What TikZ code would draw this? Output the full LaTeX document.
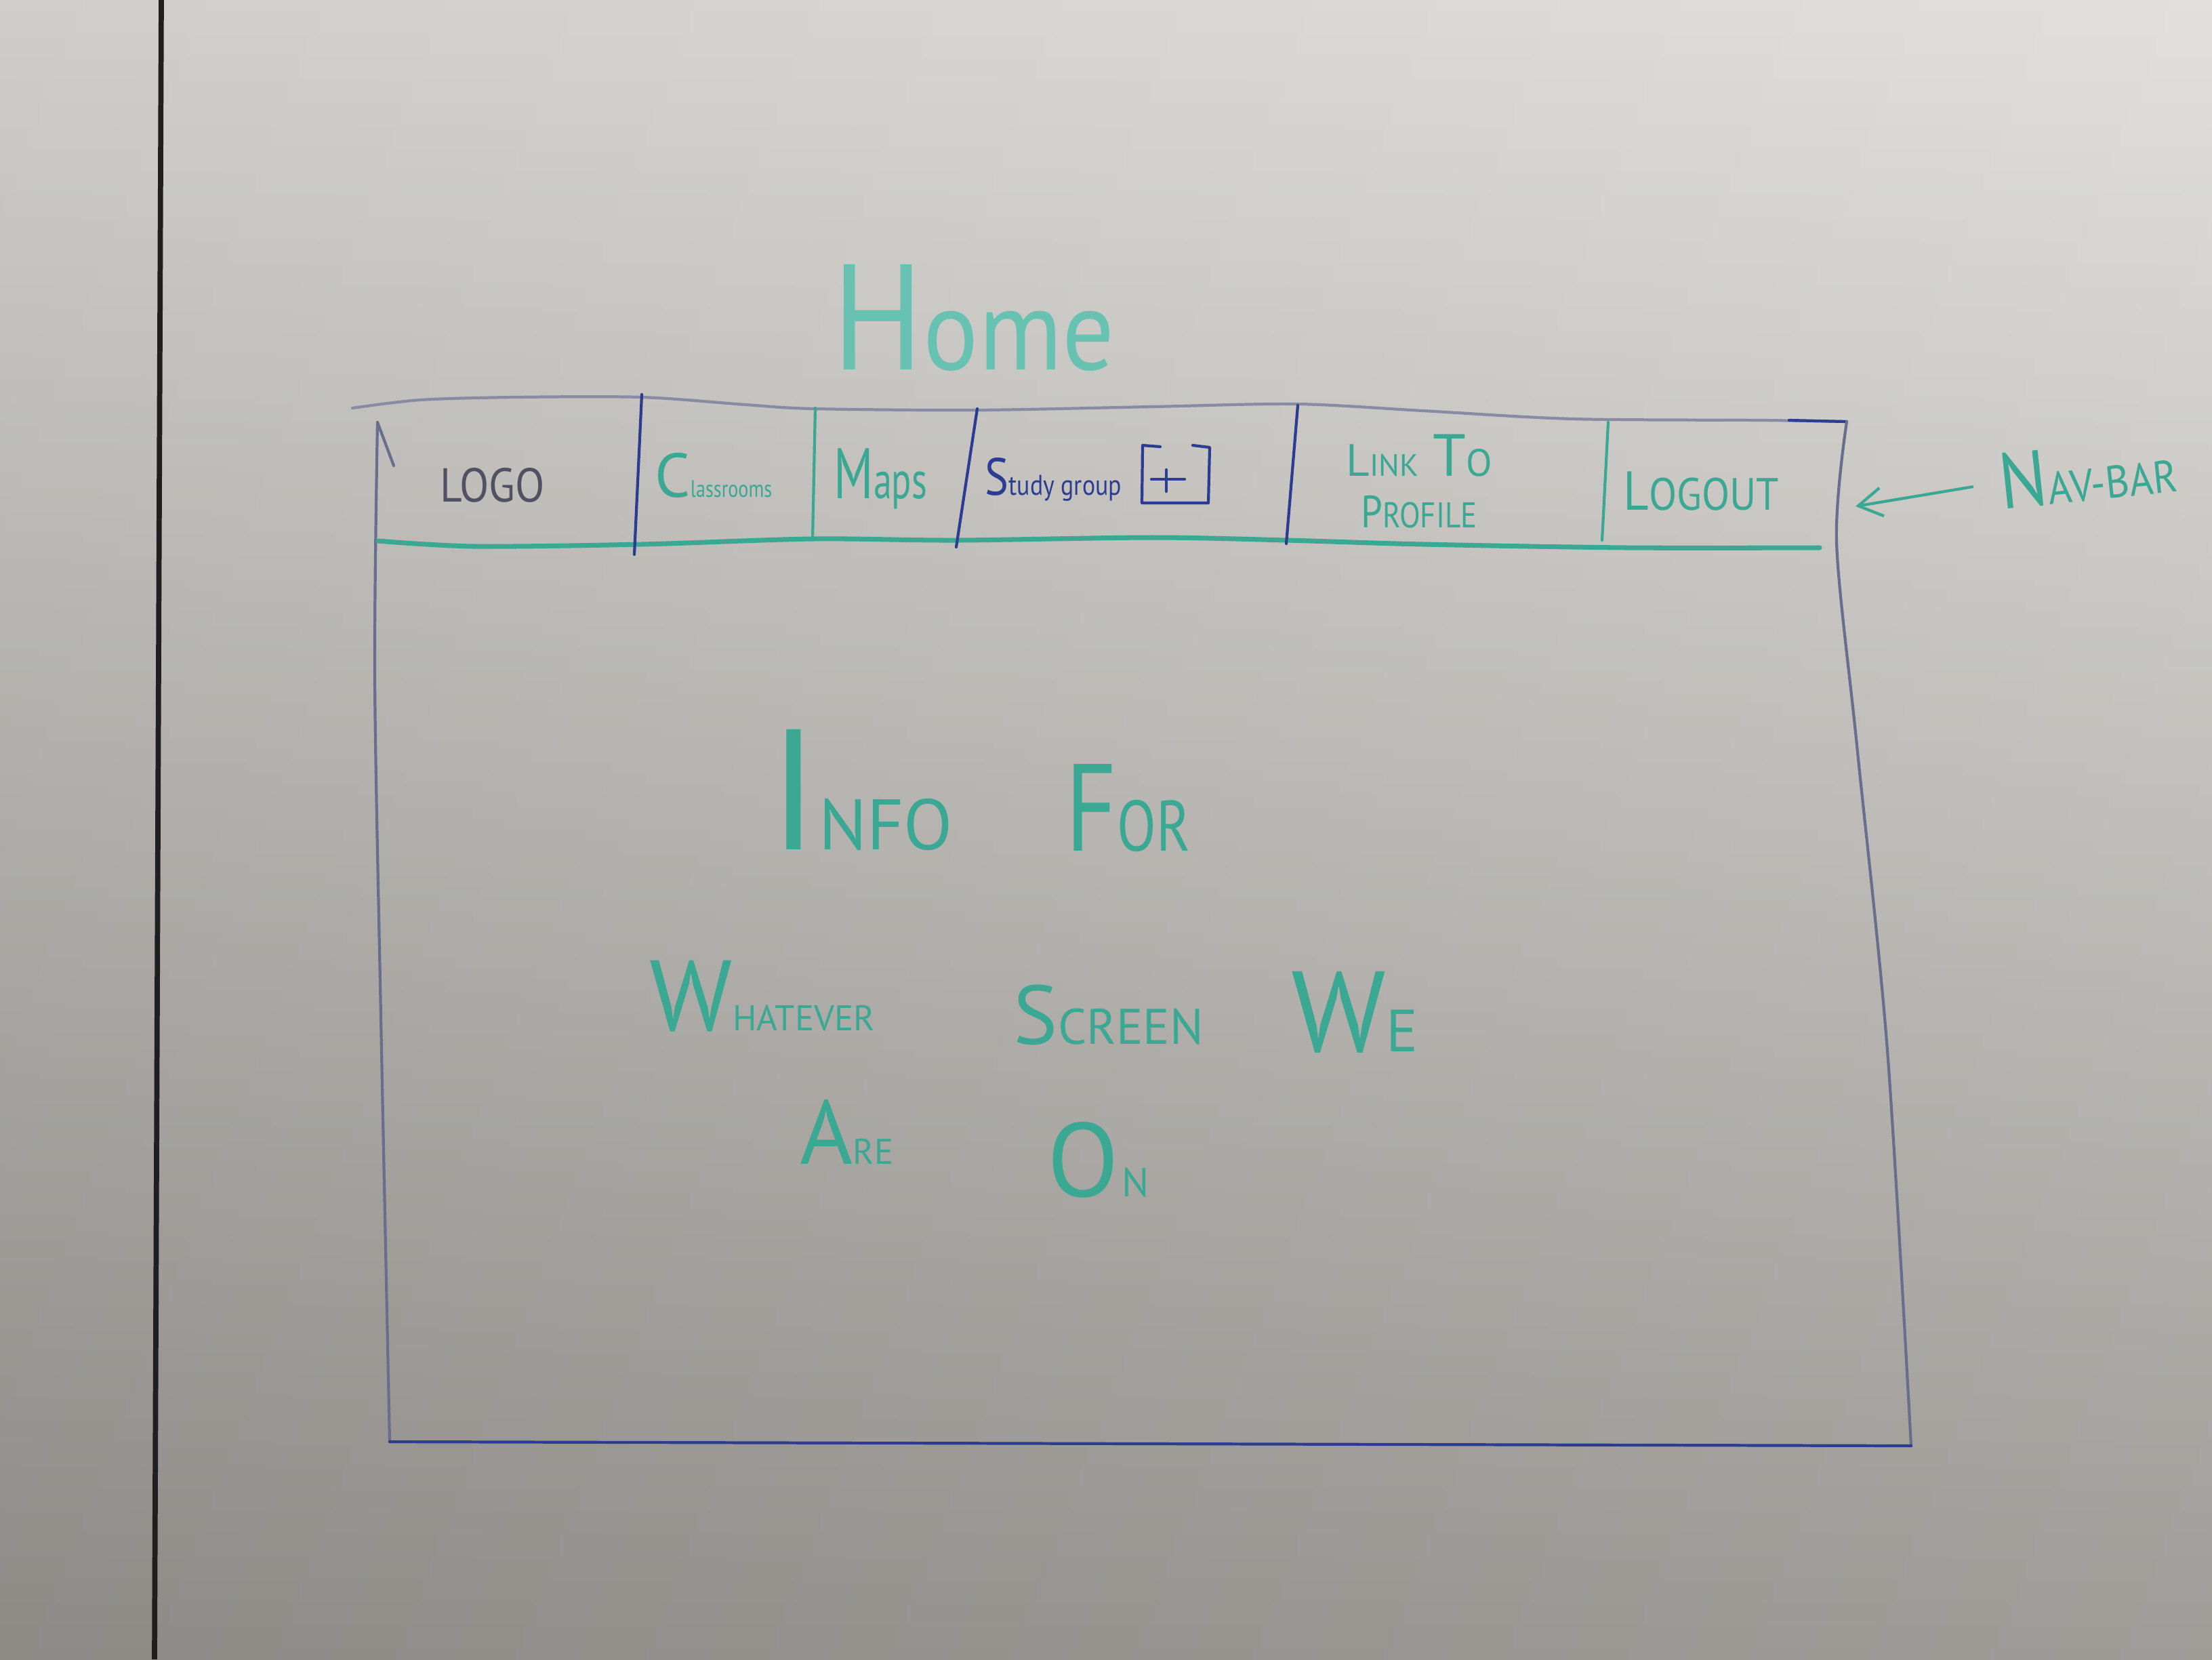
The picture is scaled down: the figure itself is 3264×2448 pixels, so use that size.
\documentclass[tikz,border=0pt]{standalone}
\usepackage{fontspec}
\usepackage{graphicx}
\setmainfont{PT Sans}
\usetikzlibrary{arrows.meta}

\definecolor{boardtop}{RGB}{224,222,218}
\definecolor{boardmid}{RGB}{206,203,199}
\definecolor{boardbot}{RGB}{152,149,145}
\definecolor{tealmk}{RGB}{58,168,146}
\definecolor{teallt}{RGB}{104,194,178}
\definecolor{bluemk}{RGB}{44,60,145}
\definecolor{grayblue}{RGB}{105,110,140}
\definecolor{logogray}{RGB}{80,82,100}

% letter of a given size, and horizontal squeeze
\newcommand\fs[2]{{\fontsize{#1}{#1}\selectfont #2}}
\newcommand\sq[2]{\scalebox{#1}[1]{#2}}

\begin{document}
\begin{tikzpicture}[x=0.01cm,y=-0.01cm,
  hw/.style={inner sep=0pt, anchor=base west},
  tealtxt/.style={hw, text=tealmk},
  bluetxt/.style={hw, text=bluemk},
  edge/.style={line width=1.2pt, line cap=round, line join=round},
  tealline/.style={edge, draw=tealmk},
  blueline/.style={edge, draw=bluemk},
  arr/.style={tealline, -{Straight Barb[length=0.35cm,width=0.42cm,line width=1.2pt]}}]

% whiteboard
\shade[top color=boardtop, middle color=boardmid, bottom color=boardbot]
  (0,0) rectangle (3264,2448);
\shade[left color=black, right color=white, opacity=0.07]
  (0,0) rectangle (3264,2448);
\useasboundingbox (0,0) rectangle (3264,2448);

% black strip on the board
\draw[line width=2.2pt, color=black!88] (238,0) -- (228,2448);

% title
\node[hw, text=teallt] (home) at (1228,545) {\sq{0.9}{\fs{63}{H}\fs{48}{ome}}};

% outer frame
\draw[edge, draw=grayblue!80] plot[smooth] coordinates {(520,602) (620,590) (760,586) (947,586) (1100,597) (1200,603) (1440,605) (1700,600) (1913,596) (2100,606) (2320,618) (2600,620) (2725,622)};
\draw[edge, draw=bluemk] (2640,620) -- (2725,622);
\draw[edge, draw=grayblue] (581,687) -- (557,623);
\draw[edge, draw=grayblue] plot[smooth] coordinates {(557,623) (553,1000) (562,1500) (575,2127)};
\draw[edge, draw=grayblue] plot[smooth] coordinates {(2725,622) (2710,800) (2740,1100) (2785,1550) (2820,2133)};
\draw[blueline] (575,2127) -- (2820,2133);

% nav bar bottom line
\draw[tealline, line width=2pt] plot[smooth] coordinates {(558,798) (700,806) (947,803) (1199,795) (1411,797) (1700,793) (1898,797) (2100,803) (2400,808) (2685,808)};

% nav bar dividers
\draw[blueline] (947,582) -- (936,818);
\draw[tealline] (1203,602) -- (1199,795);
\draw[blueline] (1442,603) -- (1411,807);
\draw[blueline] (1915,598) -- (1898,802);
\draw[tealline] (2373,623) -- (2364,797);

% nav bar entries
\node[hw, text=logogray] (logo) at (649,740) {\sq{0.9}{\fs{20}{LOGO}}};
\node[tealtxt] (classrooms) at (966,733) {\fs{26}{C}\sq{0.8}{\fs{10}{lassrooms}}};
\node[tealtxt] (maps) at (1230,735) {\sq{0.7}{\fs{30}{M}\fs{22}{aps}}};
\node[bluetxt] (study) at (1453,730) {\sq{0.85}{\fs{22}{S}\fs{12}{tudy group}}};
\draw[blueline] (1712,659) -- (1686,657) -- (1685,742) -- (1783,742) -- (1785,660) -- (1760,657);
\draw[blueline] (1721,693) -- (1721,725);
\draw[blueline] (1699,707) -- (1748,707);
\node[tealtxt] (link) at (1986,702) {\fs{19}{L}\fs{13}{INK}\hspace{0.6em}\fs{25}{T}\fs{16}{O}};
\node[tealtxt] (profile) at (2008,778) {\sq{0.85}{\fs{19}{P}\fs{15}{ROFILE}}};
\node[tealtxt] (logout) at (2395,752) {\sq{0.9}{\fs{23}{L}\fs{19}{OGOUT}}};

% nav bar label and pointer
\node[tealtxt, rotate=6] (navbar) at (2954,752) {\sq{0.9}{\fs{33}{N}\fs{19}{AV-BAR}}};
\coordinate (navtip) at (2738,747);
\draw[arr, shorten <=0.4cm] (navbar.west) -- (navtip);

% page body
\node[tealtxt] (info) at (1134,1253) {\fs{72}{I}\fs{30}{NFO}};
\node[tealtxt] (for) at (1572,1255) {\sq{0.8}{\fs{52}{F}\fs{30}{OR}}};
\node[tealtxt] (whatever) at (958,1520) {\fs{42}{W}\fs{15}{HATEVER}};
\node[tealtxt] (screen) at (1495,1540) {\fs{35}{S}\fs{21}{CREEN}};
\node[tealtxt] (we) at (1905,1551) {\fs{48}{W}\fs{25}{E}};
\node[tealtxt] (are) at (1180,1717) {\fs{38}{A}\fs{15}{RE}};
\node[tealtxt] (on) at (1545,1765) {\fs{44}{O}\hspace{0.1em}\fs{17}{N}};

\end{tikzpicture}
\end{document}
